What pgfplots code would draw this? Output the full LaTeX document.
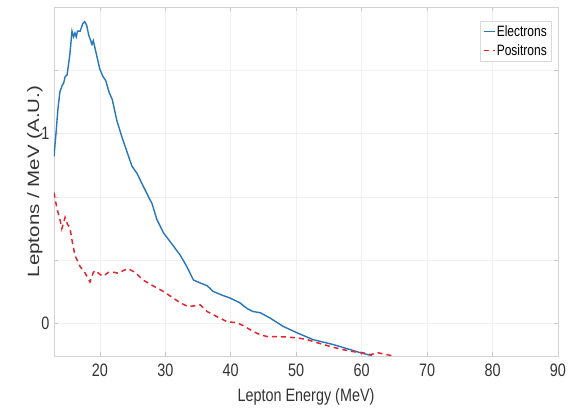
\documentclass[border=0pt]{standalone}
\usepackage{pgfplots}
\pgfplotsset{compat=1.18}
\usepackage{graphicx}
\usepackage{fontspec}
\setmainfont{Liberation Sans}[FakeStretch=0.8]
\newfontfamily\ylabfont{Liberation Sans}
\definecolor{eblue}{RGB}{38,118,185}
\definecolor{pred}{RGB}{228,36,48}
\begin{document}
\begin{tikzpicture}
\path[use as bounding box] (-54pt,-51pt) rectangle (519pt,356pt);
\begin{axis}[
  at={(0,0)}, anchor=south west,
  scale only axis, width=504pt, height=349pt,
  xmin=13, xmax=90, ymin=-0.17, ymax=1.667,
  xtick={20,30,40,50,60,70,80,90},
  ytick={0,0.33333,0.66667,1,1.33333},
  yticklabels={0,,,1,},
  /pgf/number format/assume math mode=true,
  tick label style={font=\fontsize{18}{20}\selectfont, text=black!80},
  xticklabel shift=4pt,
  yticklabel shift=1pt,
  grid=major,
  grid style={gray!12, line width=0.6pt},
  axis line style={gray!35, line width=0.8pt},
  tick style={gray!45, line width=0.6pt},
  major tick length=4pt,
  tick pos=both,
  xlabel={Lepton Energy (MeV)},
  xlabel style={font=\fontsize{18}{20}\selectfont, text=black!80, at={(axis description cs:0.5,0)}, anchor=center, yshift=-41pt},
  ylabel={\scalebox{1}[0.8]{\ylabfont\fontsize{20.5}{22}\selectfont Leptons / MeV (A.U.)}},
  ylabel style={text=black!80, at={(axis description cs:0,0.5)}, anchor=center, yshift=19pt},
  legend style={at={(axis description cs:1,1)}, anchor=north east, xshift=-7pt, yshift=-14pt,
    font=\fontsize{15}{16}\selectfont, draw=gray!30, fill=white, row sep=4pt, inner sep=2.5pt,
    nodes={inner sep=1.5pt}},
  legend cell align=left,
  legend image code/.code={\draw[#1, line width=1.3pt] (0pt,0pt) -- (11pt,0pt);},
]
\addplot[eblue, line width=1.4pt] coordinates {
(13.0,0.88) (13.3,1.00) (13.6,1.13) (13.9,1.22) (14.2,1.25) (14.5,1.27) (14.7,1.30)
(15.0,1.31) (15.4,1.41) (15.75,1.54) (16.0,1.51) (16.2,1.53) (16.4,1.51) (16.6,1.54)
(17.0,1.54) (17.4,1.58) (17.7,1.59) (18.0,1.57) (18.3,1.52) (18.6,1.49) (18.8,1.47)
(19.0,1.49) (19.4,1.43) (20.0,1.34) (20.5,1.30) (20.9,1.28) (21.4,1.22) (21.9,1.18)
(22.6,1.07) (23.4,0.98) (24.2,0.90) (24.9,0.83) (25.7,0.79) (26.9,0.705) (28.0,0.63)
(28.7,0.55) (29.7,0.48) (31.0,0.42) (32.3,0.36) (33.3,0.30) (34.3,0.23) (35.3,0.215)
(36.4,0.20) (37.3,0.17) (38.7,0.15) (39.9,0.135) (41.4,0.11) (42.5,0.08) (43.4,0.064)
(44.5,0.058) (46.0,0.03) (48.0,-0.014) (50.2,-0.049) (52.6,-0.084) (55.7,-0.11)
(58.3,-0.137) (59.8,-0.153) (61.6,-0.168)
};
\addlegendentry{Electrons}
\addplot[pred, line width=1.5pt, dash pattern=on 5pt off 4pt] coordinates {
(13.0,0.69) (13.2,0.65) (13.5,0.60) (13.9,0.55) (14.2,0.50) (14.7,0.56) (15.1,0.52)
(15.4,0.51) (15.75,0.44) (16.2,0.36) (17.0,0.30) (17.7,0.27) (18.5,0.22) (19.0,0.27)
(19.3,0.28) (20.0,0.26) (20.5,0.25) (21.3,0.27) (22.3,0.27) (22.8,0.265) (23.6,0.28)
(24.3,0.29) (25.4,0.27) (26.6,0.23) (28.1,0.20) (29.7,0.17) (31.0,0.14) (32.3,0.11)
(33.5,0.09) (34.6,0.095) (35.3,0.10) (36.4,0.064) (37.9,0.037) (39.5,0.01) (41.0,0.005)
(41.9,-0.01) (43.4,-0.04) (44.5,-0.058) (45.6,-0.068) (47.1,-0.068) (48.6,-0.07)
(50.2,-0.075) (51.7,-0.084) (53.2,-0.10) (55.2,-0.12) (57.2,-0.137) (58.7,-0.147)
(60.2,-0.153) (61.3,-0.163) (62.5,-0.153) (63.9,-0.163) (64.8,-0.17)
};
\addlegendentry{Positrons}
\end{axis}
\end{tikzpicture}
\end{document}
